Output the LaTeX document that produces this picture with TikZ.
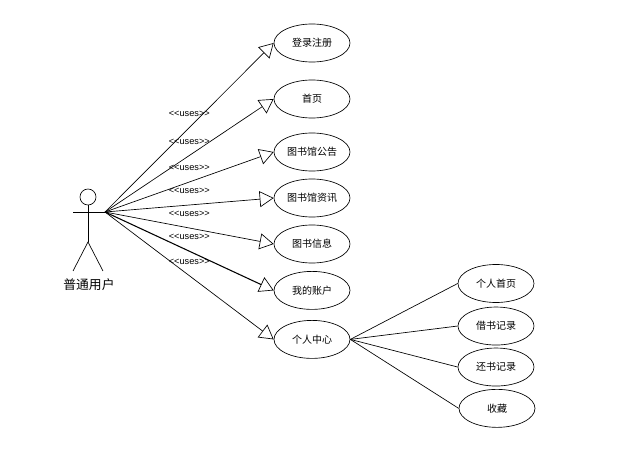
\documentclass[tikz,border=0pt]{standalone}
\usepackage{fontspec}
\setmainfont{Noto Sans CJK SC}
\newfontfamily\usesfont{Liberation Sans}
\usetikzlibrary{arrows.meta,positioning,shapes.geometric}

\begin{document}
\begin{tikzpicture}[
			x=0.75pt,
			y=-0.75pt,
			line width=0.5pt,
			signal/.style={
				-{Triangle[open,length=10.5pt,width=12pt,line width=0.5pt]}
			},
			association/.style={
				draw
			},
			usecase/.style={
				draw,
				ellipse,
				minimum width=57pt,
				minimum height=28.5pt,
				inner sep=0pt,
				font=\fontsize{7.5}{9}\selectfont
			},
			uses/.style={
				midway,
				yshift=10.5pt,
				inner sep=0pt,
				font=\usesfont\fontsize{6.9}{8}\selectfont
			}
			]
			
			\useasboundingbox (0,0) rectangle (637,453);
			
			%=====================================================================
			% Actor
			%=====================================================================
			
			\node[draw, circle, minimum size=12pt, inner sep=0pt] (head) at (88,197) {};
			
			\coordinate (shoulder) at (88,212);
			\coordinate (handl) at (73,212);
			\coordinate (hub) at (105,212);
			\coordinate (hip) at (88,242);
			\coordinate (footl) at (73,271);
			\coordinate (footr) at (103,271);
			
			\draw (head) -- (hip);
			\draw (handl) -- (hub);
			\draw (footl) -- (hip) -- (footr);
			
			\node[font=\fontsize{9.6}{11}\selectfont] (user) at (89,285) {普通用户};
			
			%=====================================================================
			% Use cases of the user
			%=====================================================================
			
			\node[usecase] (login) at (312,43) {登录注册};
			
			\node[usecase, below=13pt of login] (home) {首页};
			
			\node[usecase, below=10.75pt of home] (notice) {图书馆公告};
			
			\node[usecase, below=5.5pt of notice] (news) {图书馆资讯};
			
			\node[usecase, below=5.5pt of news] (bookinfo) {图书信息};
			
			\node[usecase, below=5.8pt of bookinfo] (account) {我的账户};
			
			\node[usecase, below=7.75pt of account] (center) {个人中心};
			
			\draw[signal] (hub) -- node[uses] {<<uses>>} (login.west);
			\draw[signal] (hub) -- node[uses] {<<uses>>} (home.west);
			\draw[signal] (hub) -- node[uses] {<<uses>>} (notice.west);
			\draw[signal] (hub) -- node[uses] {<<uses>>} (news.west);
			\draw[signal] (hub) -- node[uses] {<<uses>>} (bookinfo.west);
			\draw[signal, line width=0.8pt] (hub) -- node[uses] {<<uses>>} (account.west);
			\draw[signal] (hub) -- node[uses] {<<uses>>} (center.west);
			
			%=====================================================================
			% Personal centre pages
			%=====================================================================
			
			\node[usecase] (profile) at (496,283.5) {个人首页};
			
			\node[usecase, below=2.9pt of profile] (borrow) {借书记录};
			
			\node[usecase, below=1.75pt of borrow] (return) {还书记录};
			
			\node[usecase, below=2pt of return, xshift=0.75pt] (favorite) {收藏};
			
			\draw[association] (center.east) -- (profile.west);
			\draw[association] (center.east) -- (borrow.west);
			\draw[association] (center.east) -- (return.west);
			\draw[association] (center.east) -- (favorite.west);
			
		\end{tikzpicture}
\end{document}
